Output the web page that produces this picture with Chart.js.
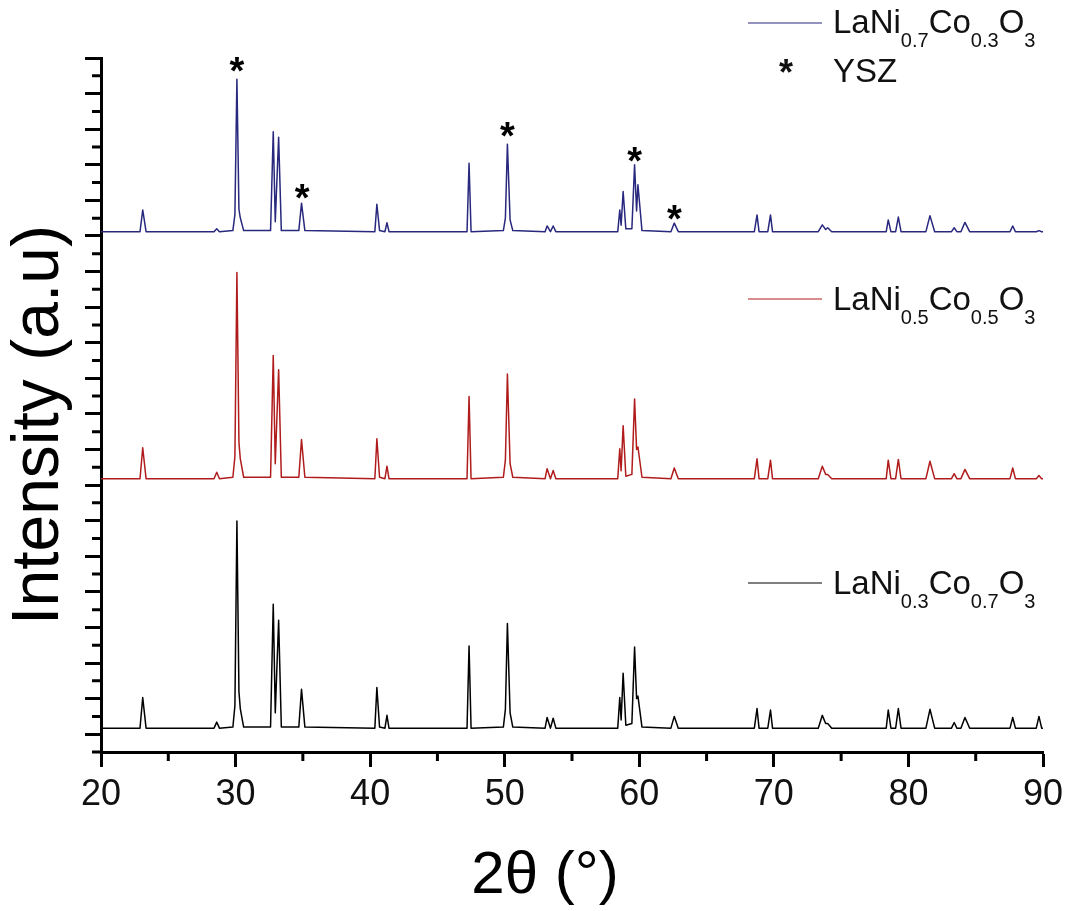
<!DOCTYPE html>
<html>
<head>
<meta charset="utf-8">
<script src="https://cdn.jsdelivr.net/npm/chart.js@4.4.1/dist/chart.umd.min.js"></script>
<style>
  html, body { margin: 0; padding: 0; background: #fff; }
  canvas { display: block; }
</style>
</head>
<body>
<canvas id="xrd" width="1070" height="911"></canvas>
<script>
// 2theta positions (baseline points on both sides of each peak)
const twoTheta = [
  20.0, 22.9, 23.1, 23.35,
  28.4, 28.6, 28.8,
  29.8, 29.95, 30.1, 30.25, 30.35, 30.6,
  32.6, 32.8, 32.95, 33.2, 33.4,
  34.7, 34.9, 35.15,
  40.35, 40.5, 40.7, 41.1, 41.25, 41.4,
  47.2, 47.35, 47.5,
  49.9, 50.05, 50.2, 50.4, 50.6,
  53.0, 53.15, 53.4, 53.6, 53.8,
  58.4, 58.55, 58.65, 58.8, 59.0, 59.45, 59.65, 59.8, 59.9, 60.2,
  62.35, 62.6, 62.9,
  68.55, 68.75, 68.9, 69.55, 69.75, 69.9,
  73.3, 73.6, 73.85, 74.0, 74.3,
  78.35, 78.5, 78.7, 79.05, 79.25, 79.45,
  81.3, 81.6, 81.95,
  83.2, 83.4, 83.6, 83.9, 84.2, 84.55,
  87.55, 87.75, 87.95,
  89.5, 89.7, 89.9, 90.0
];

// LaNi0.7Co0.3O3 (top pattern, offset)
const intensityNi07 = [
  14.12, 14.12, 14.73, 14.12,
  14.12, 14.20, 14.12,
  14.15, 14.60, 18.40, 14.75, 14.51, 14.15,
  14.15, 16.93, 14.40, 16.77, 14.15,
  14.15, 14.92, 14.15,
  14.12, 14.89, 14.15, 14.12, 14.37, 14.12,
  14.12, 16.04, 14.12,
  14.15, 14.50, 16.58, 14.45, 14.15,
  14.12, 14.28, 14.12, 14.28, 14.12,
  14.12, 14.73, 14.30, 15.25, 14.20, 14.20, 16.00, 14.70, 15.44, 14.15,
  14.12, 14.36, 14.12,
  14.12, 14.59, 14.12, 14.12, 14.59, 14.12,
  14.12, 14.31, 14.18, 14.23, 14.12,
  14.12, 14.45, 14.12, 14.12, 14.53, 14.12,
  14.12, 14.57, 14.12,
  14.12, 14.23, 14.12, 14.12, 14.38, 14.12,
  14.12, 14.28, 14.12,
  14.12, 14.15, 14.12, 14.12
];

// LaNi0.5Co0.5O3 (middle pattern)
const intensityNi05 = [
  7.18, 7.18, 8.05, 7.18,
  7.18, 7.36, 7.18,
  7.22, 7.80, 12.97, 8.20, 7.74, 7.22,
  7.22, 10.64, 7.60, 10.24, 7.22,
  7.22, 8.28, 7.22,
  7.18, 8.30, 7.22, 7.18, 7.53, 7.18,
  7.18, 9.49, 7.18,
  7.22, 7.70, 10.12, 7.60, 7.22,
  7.18, 7.46, 7.18, 7.41, 7.18,
  7.18, 8.02, 7.40, 8.67, 7.25, 7.30, 9.42, 8.00, 8.07, 7.22,
  7.18, 7.48, 7.18,
  7.18, 7.74, 7.18, 7.18, 7.70, 7.18,
  7.18, 7.53, 7.30, 7.30, 7.18,
  7.18, 7.70, 7.18, 7.18, 7.72, 7.18,
  7.18, 7.67, 7.18,
  7.18, 7.32, 7.18, 7.18, 7.44, 7.18,
  7.18, 7.48, 7.18,
  7.18, 7.27, 7.18, 7.18
];

// LaNi0.3Co0.7O3 (bottom pattern)
const intensityNi03 = [
  0.17, 0.17, 1.03, 0.17,
  0.17, 0.34, 0.17,
  0.20, 0.80, 5.99, 1.20, 0.72, 0.20,
  0.20, 3.65, 0.60, 3.20, 0.20,
  0.20, 1.26, 0.20,
  0.17, 1.31, 0.20, 0.17, 0.53, 0.17,
  0.17, 2.48, 0.17,
  0.20, 0.70, 3.11, 0.60, 0.20,
  0.17, 0.47, 0.17, 0.45, 0.17,
  0.17, 1.03, 0.40, 1.71, 0.25, 0.30, 2.45, 1.00, 1.07, 0.20,
  0.17, 0.50, 0.17,
  0.17, 0.72, 0.17, 0.17, 0.68, 0.17,
  0.17, 0.53, 0.30, 0.30, 0.17,
  0.17, 0.68, 0.17, 0.17, 0.72, 0.17,
  0.17, 0.70, 0.17,
  0.17, 0.33, 0.17, 0.17, 0.47, 0.17,
  0.17, 0.47, 0.17,
  0.17, 0.50, 0.17, 0.17
];

const seriesNames = ['LaNi0.7Co0.3O3', 'LaNi0.5Co0.5O3', 'LaNi0.3Co0.7O3'];
const seriesColors = ['#28287e', '#b01c1c', '#000000'];

// YSZ reflections marked with an asterisk (2theta, height of the mark)
const yszPeaks = [30.1, 34.95, 50.2, 59.65, 62.6];
const yszMarks = [18.83, 15.25, 17.0, 16.28, 14.66];

const xTickLabels = [20, 30, 40, 50, 60, 70, 80, 90];

const FONT = '"Liberation Sans", Arial, Helvetica, sans-serif';

// letters normal size, numbers as subscripts
function drawFormula(ctx, text, x, y, size) {
  const parts = text.match(/[A-Za-z]+|[0-9.]+/g);
  let cx = x;
  parts.forEach(p => {
    const sub = /^[0-9.]/.test(p);
    ctx.font = (sub ? Math.round(size * 0.62) : size) + 'px ' + FONT;
    ctx.fillText(p, cx, sub ? y + size * 0.42 : y);
    cx += ctx.measureText(p).width;
  });
}

function drawStar(ctx, px, py, size) {
  ctx.font = 'bold ' + size + 'px ' + FONT;
  const m = ctx.measureText('*');
  ctx.textAlign = 'center';
  ctx.textBaseline = 'alphabetic';
  ctx.fillText('*', px, py + (m.actualBoundingBoxAscent - m.actualBoundingBoxDescent) / 2);
  ctx.textAlign = 'left';
}

const extras = {
  id: 'extras',
  afterDraw(chart) {
    const { ctx, chartArea: a, scales: { x, y } } = chart;
    ctx.save();

    // minor ticks (shorter than the major ones drawn by Chart.js)
    ctx.strokeStyle = '#000';
    ctx.lineWidth = 3;
    ctx.beginPath();
    y.ticks.forEach(t => {
      if (t.value % 1 !== 0) {
        const py = y.getPixelForValue(t.value);
        ctx.moveTo(a.left - 9, py);
        ctx.lineTo(a.left, py);
      }
    });
    x.ticks.forEach(t => {
      if (t.value % 10 !== 0) {
        const px = x.getPixelForValue(t.value);
        ctx.moveTo(px, a.bottom);
        ctx.lineTo(px, a.bottom + 9);
      }
    });
    ctx.stroke();

    // YSZ asterisks
    ctx.fillStyle = '#000';
    yszPeaks.forEach((p, i) => drawStar(ctx, x.getPixelForValue(p), y.getPixelForValue(yszMarks[i]), 38));

    // legend
    const rows = [
      { line: 23, base: 33 },
      { line: 299, base: 310 },
      { line: 583, base: 594 }
    ];
    ctx.lineWidth = 1.2;
    rows.forEach((r, i) => {
      ctx.strokeStyle = seriesColors[i];
      ctx.beginPath();
      ctx.moveTo(748, r.line);
      ctx.lineTo(822, r.line);
      ctx.stroke();
      ctx.fillStyle = '#111';
      ctx.textBaseline = 'alphabetic';
      drawFormula(ctx, seriesNames[i], 833, r.base, 33);
    });
    ctx.fillStyle = '#111';
    drawStar(ctx, 786, 66, 36);
    ctx.font = '33px ' + FONT;
    ctx.fillText('YSZ', 833, 82);

    // axis titles
    ctx.fillStyle = '#000';
    ctx.save();
    ctx.translate(58, 425);
    ctx.rotate(-Math.PI / 2);
    ctx.font = '66px ' + FONT;
    ctx.textAlign = 'center';
    ctx.fillText('Intensity (a.u)', 0, 0);
    ctx.restore();

    ctx.font = '60px ' + FONT;
    ctx.textAlign = 'center';
    ctx.fillText('2\u03B8 (\u00B0)', 545, 893);

    ctx.restore();
  }
};

const datasets = [intensityNi07, intensityNi05, intensityNi03].map((vals, i) => ({
  label: seriesNames[i],
  data: twoTheta.map((t, j) => ({ x: t, y: vals[j] })),
  borderColor: seriesColors[i],
  borderWidth: 1.5,
  borderJoinStyle: 'round',
  pointRadius: 0,
  tension: 0,
  fill: false
}));

new Chart(document.getElementById('xrd'), {
  type: 'line',
  data: { datasets },
  options: {
    responsive: false,
    animation: false,
    layout: { padding: { top: 58, right: 27, left: 0, bottom: 0 } },
    plugins: { legend: { display: false }, tooltip: { enabled: false } },
    scales: {
      x: {
        type: 'linear',
        min: 20,
        max: 90,
        afterFit: s => { s.height = 159; },
        border: { display: true, color: '#000', width: 3 },
        grid: {
          drawOnChartArea: false,
          drawTicks: true,
          tickLength: 15,
          tickWidth: 3,
          tickColor: c => (c.tick && c.tick.value % 10 === 0) ? '#000' : 'rgba(0,0,0,0)'
        },
        ticks: {
          stepSize: 5,
          autoSkip: false,
          maxRotation: 0,
          padding: 6,
          color: '#111',
          font: { family: FONT, size: 36 },
          callback: v => xTickLabels.includes(v) ? String(v) : ''
        }
      },
      y: {
        type: 'linear',
        min: -0.5,
        max: 19,
        afterFit: s => { s.width = 101; },
        border: { display: true, color: '#000', width: 3 },
        grid: {
          drawOnChartArea: false,
          drawTicks: true,
          tickLength: 16,
          tickWidth: 3,
          tickColor: c => (c.tick && c.tick.value % 1 === 0) ? '#000' : 'rgba(0,0,0,0)'
        },
        ticks: { stepSize: 0.5, display: false }
      }
    }
  },
  plugins: [extras]
});
</script>
</body>
</html>
